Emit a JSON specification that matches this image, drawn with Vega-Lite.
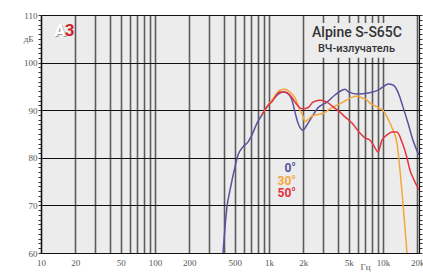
{
  "$schema": "https://vega.github.io/schema/vega-lite/v6.json",
  "width": 378,
  "height": 238,
  "autosize": "none",
  "padding": {"left": 41, "top": 15, "right": 4, "bottom": 24},
  "background": "#ffffff",
  "view": {"fill": "#ececec", "stroke": null},
  "resolve": {"axis": {"y": "independent"}},
  "layer": [
    {
      "data": {"values": [
        {"s": "0°", "f": 395, "db": 60},
        {"s": "0°", "f": 428, "db": 69.7},
        {"s": "0°", "f": 455, "db": 73.2},
        {"s": "0°", "f": 503, "db": 78.1},
        {"s": "0°", "f": 535, "db": 80.6},
        {"s": "0°", "f": 592, "db": 82.3},
        {"s": "0°", "f": 654, "db": 83.3},
        {"s": "0°", "f": 709, "db": 84.8},
        {"s": "0°", "f": 785, "db": 87.3},
        {"s": "0°", "f": 868, "db": 89},
        {"s": "0°", "f": 960, "db": 90.7},
        {"s": "0°", "f": 1062, "db": 92},
        {"s": "0°", "f": 1199, "db": 93.3},
        {"s": "0°", "f": 1327, "db": 93.8},
        {"s": "0°", "f": 1439, "db": 93.6},
        {"s": "0°", "f": 1592, "db": 92.1},
        {"s": "0°", "f": 1691, "db": 89.6},
        {"s": "0°", "f": 1797, "db": 87.3},
        {"s": "0°", "f": 1987, "db": 85.8},
        {"s": "0°", "f": 2154, "db": 86.9},
        {"s": "0°", "f": 2384, "db": 88.6},
        {"s": "0°", "f": 2690, "db": 90.5},
        {"s": "0°", "f": 3228, "db": 91.7},
        {"s": "0°", "f": 3791, "db": 93.2},
        {"s": "0°", "f": 4369, "db": 94.2},
        {"s": "0°", "f": 4642, "db": 94.4},
        {"s": "0°", "f": 5034, "db": 93.8},
        {"s": "0°", "f": 6036, "db": 93.4},
        {"s": "0°", "f": 7384, "db": 93.6},
        {"s": "0°", "f": 9037, "db": 94.2},
        {"s": "0°", "f": 10000, "db": 94.9},
        {"s": "0°", "f": 11066, "db": 95.5},
        {"s": "0°", "f": 12238, "db": 95.3},
        {"s": "0°", "f": 13537, "db": 93.8},
        {"s": "0°", "f": 14975, "db": 90.7},
        {"s": "0°", "f": 16571, "db": 87.3},
        {"s": "0°", "f": 18335, "db": 83.7},
        {"s": "0°", "f": 20600, "db": 80.6},
        {"s": "30°", "f": 868, "db": 89},
        {"s": "30°", "f": 960, "db": 90.7},
        {"s": "30°", "f": 1062, "db": 92.1},
        {"s": "30°", "f": 1249, "db": 94.2},
        {"s": "30°", "f": 1382, "db": 94.4},
        {"s": "30°", "f": 1528, "db": 93.8},
        {"s": "30°", "f": 1691, "db": 92.6},
        {"s": "30°", "f": 1871, "db": 90},
        {"s": "30°", "f": 1987, "db": 88.8},
        {"s": "30°", "f": 2070, "db": 87.6},
        {"s": "30°", "f": 2198, "db": 88},
        {"s": "30°", "f": 2432, "db": 88.9},
        {"s": "30°", "f": 2977, "db": 89.3},
        {"s": "30°", "f": 3428, "db": 90.3},
        {"s": "30°", "f": 4458, "db": 91.7},
        {"s": "30°", "f": 5456, "db": 92.8},
        {"s": "30°", "f": 6036, "db": 93},
        {"s": "30°", "f": 6544, "db": 92.6},
        {"s": "30°", "f": 7238, "db": 92.1},
        {"s": "30°", "f": 7691, "db": 91.5},
        {"s": "30°", "f": 8171, "db": 91.1},
        {"s": "30°", "f": 9413, "db": 90.3},
        {"s": "30°", "f": 10000, "db": 90},
        {"s": "30°", "f": 10841, "db": 88.6},
        {"s": "30°", "f": 11994, "db": 86.3},
        {"s": "30°", "f": 13269, "db": 83.1},
        {"s": "30°", "f": 14100, "db": 77.4},
        {"s": "30°", "f": 14975, "db": 70.5},
        {"s": "30°", "f": 16241, "db": 60},
        {"s": "50°", "f": 868, "db": 89},
        {"s": "50°", "f": 960, "db": 90.7},
        {"s": "50°", "f": 1062, "db": 91.8},
        {"s": "50°", "f": 1249, "db": 93.8},
        {"s": "50°", "f": 1382, "db": 93.8},
        {"s": "50°", "f": 1528, "db": 93.2},
        {"s": "50°", "f": 1691, "db": 91.7},
        {"s": "50°", "f": 1871, "db": 90.5},
        {"s": "50°", "f": 1987, "db": 90.3},
        {"s": "50°", "f": 2198, "db": 90.5},
        {"s": "50°", "f": 2432, "db": 91.7},
        {"s": "50°", "f": 2802, "db": 92.1},
        {"s": "50°", "f": 3228, "db": 91.7},
        {"s": "50°", "f": 3642, "db": 90.7},
        {"s": "50°", "f": 4195, "db": 89.6},
        {"s": "50°", "f": 4642, "db": 88.6},
        {"s": "50°", "f": 5348, "db": 87.3},
        {"s": "50°", "f": 6285, "db": 85.2},
        {"s": "50°", "f": 6952, "db": 84.2},
        {"s": "50°", "f": 7691, "db": 83.7},
        {"s": "50°", "f": 8508, "db": 82.1},
        {"s": "50°", "f": 9037, "db": 81.2},
        {"s": "50°", "f": 9799, "db": 83.7},
        {"s": "50°", "f": 10841, "db": 84.8},
        {"s": "50°", "f": 11994, "db": 85.4},
        {"s": "50°", "f": 13269, "db": 85.4},
        {"s": "50°", "f": 14678, "db": 83.3},
        {"s": "50°", "f": 16241, "db": 80},
        {"s": "50°", "f": 17250, "db": 77.4},
        {"s": "50°", "f": 18335, "db": 75.8},
        {"s": "50°", "f": 20600, "db": 73.3}
      ]},
      "mark": {"type": "line", "strokeWidth": 1.5, "interpolate": "monotone", "clip": true},
      "encoding": {
        "x": {"field": "f", "type": "quantitative",
          "scale": {"type": "log", "domain": [10, 20700], "nice": false},
          "axis": {
            "zindex": 0,
            "values": [10,20,30,40,50,60,70,80,90,100,200,300,400,500,600,700,800,900,1000,2000,3000,4000,5000,6000,7000,8000,9000,10000,20000],
            "labelExpr": "indexof([10,20,50,100,200,500],datum.value) >= 0 ? '' + datum.value : (indexof([1000,2000,5000,10000,20000],datum.value) >= 0 ? (datum.value/1000) + 'k' : '')",
            "grid": true, "gridColor": "#5c5c5c", "gridWidth": 1.6,
            "ticks": false, "domainColor": "#111111", "domainWidth": 1.2,
            "labelFont": "Liberation Sans Narrow", "labelFontSize": 9, "labelColor": "#555555",
            "labelPadding": 5, "labelFlush": false, "labelOverlap": false,
            "title": "Гц", "titleX": 324, "titleY": 13, "titleFont": "Liberation Sans Narrow",
            "titleFontSize": 9, "titleFontWeight": "normal", "titleColor": "#555555",
            "titleAlign": "center", "titleBaseline": "middle"
          }},
        "y": {"field": "db", "type": "quantitative",
          "scale": {"domain": [60, 110], "nice": false, "zero": false},
          "axis": {
            "zindex": 0,
            "orient": "left",
            "values": [60,61,62,63,64,65,66,67,68,69,70,71,72,73,74,75,76,77,78,79,80,81,82,83,84,85,86,87,88,89,90,91,92,93,94,95,96,97,98,99,100,101,102,103,104,105,106,107,108,109,110],
            "labelExpr": "datum.value % 10 === 0 ? datum.label : ''",
            "grid": true, "gridColor": "#111111", "gridWidth": 1.2,
            "gridOpacity": {"condition": {"test": "datum.value % 10 === 0", "value": 1}, "value": 0},
            "tickSize": 3, "tickColor": "#333333", "tickWidth": 1,
            "domainColor": "#111111", "domainWidth": 1.2,
            "labelFont": "Liberation Sans Narrow", "labelFontSize": 9, "labelColor": "#555555",
            "labelPadding": 1, "labelFlush": false, "labelOverlap": false,
            "title": "дБ", "titleAngle": 0, "titleX": -13, "titleY": 23,
            "titleFont": "Liberation Sans Narrow", "titleFontSize": 9, "titleFontWeight": "normal",
            "titleColor": "#555555", "titleAlign": "center", "titleBaseline": "middle"
          }},
        "color": {"field": "s", "type": "nominal",
          "scale": {"domain": ["0°", "30°", "50°"], "range": ["#58539e", "#f4a73a", "#e6323d"]},
          "legend": null}
      }
    },
    {
      "data": {"values": [{"f": 2290, "f2": 17300, "db": 101, "db2": 108.3}]},
      "mark": {"type": "rect", "fill": "#ececec", "opacity": 1},
      "encoding": {
        "x": {"field": "f", "type": "quantitative", "scale": {"type": "log", "domain": [10, 20700], "nice": false}},
        "x2": {"field": "f2"},
        "y": {"field": "db", "type": "quantitative", "scale": {"domain": [60, 110], "nice": false, "zero": false},
          "axis": {"zindex": 0, "orient": "right", "values": [60,61,62,63,64,65,66,67,68,69,70,71,72,73,74,75,76,77,78,79,80,81,82,83,84,85,86,87,88,89,90,91,92,93,94,95,96,97,98,99,100,101,102,103,104,105,106,107,108,109,110],
            "labels": false, "grid": false, "tickSize": 3, "tickColor": "#333333", "domainColor": "#111111", "domainWidth": 1.2, "title": null}},
        "y2": {"field": "db2"}
      }
    },
    {
      "data": {"values": [
        {"t": "0°", "f": 1725, "db": 77.9},
        {"t": "30°", "f": 1725, "db": 75.1},
        {"t": "50°", "f": 1725, "db": 72.6}
      ]},
      "mark": {"type": "text", "align": "right", "baseline": "middle", "font": "Roboto", "fontSize": 12, "fontWeight": "bold"},
      "encoding": {
        "x": {"field": "f", "type": "quantitative", "scale": {"type": "log", "domain": [10, 20700], "nice": false}},
        "y": {"field": "db", "type": "quantitative", "scale": {"domain": [60, 110], "nice": false, "zero": false}, "axis": null},
        "text": {"field": "t"},
        "color": {"field": "t", "type": "nominal",
          "scale": {"domain": ["0°", "30°", "50°"], "range": ["#58539e", "#f4a73a", "#e6323d"]},
          "legend": null}
      }
    },
    {
      "data": {"values": [{"t": "Alpine S-S65C", "f": 5916, "db": 106.2}]},
      "mark": {"type": "text", "align": "center", "baseline": "middle", "font": "Roboto", "fontSize": 14, "fontWeight": 500, "color": "#333333"},
      "encoding": {
        "x": {"field": "f", "type": "quantitative", "scale": {"type": "log", "domain": [10, 20700], "nice": false}},
        "y": {"field": "db", "type": "quantitative", "scale": {"domain": [60, 110], "nice": false, "zero": false}, "axis": null},
        "text": {"field": "t"}
      }
    },
    {
      "data": {"values": [{"t": "ВЧ-излучатель", "f": 5850, "db": 102.9}]},
      "mark": {"type": "text", "align": "center", "baseline": "middle", "font": "Roboto", "fontSize": 11, "fontWeight": 500, "color": "#333333"},
      "encoding": {
        "x": {"field": "f", "type": "quantitative", "scale": {"type": "log", "domain": [10, 20700], "nice": false}},
        "y": {"field": "db", "type": "quantitative", "scale": {"domain": [60, 110], "nice": false, "zero": false}, "axis": null},
        "text": {"field": "t"}
      }
    },
    {
      "data": {"values": [{"t": "A", "f": 14.68, "db": 106.6}]},
      "mark": {"type": "text", "align": "center", "baseline": "middle", "font": "Roboto", "fontSize": 17, "fontWeight": "bold", "color": "#9a9a9a", "dx": 1, "dy": 1},
      "encoding": {
        "x": {"field": "f", "type": "quantitative", "scale": {"type": "log", "domain": [10, 20700], "nice": false}},
        "y": {"field": "db", "type": "quantitative", "scale": {"domain": [60, 110], "nice": false, "zero": false}, "axis": null},
        "text": {"field": "t"}
      }
    },
    {
      "data": {"values": [{"t": "A", "f": 14.68, "db": 106.6}]},
      "mark": {"type": "text", "align": "center", "baseline": "middle", "font": "Roboto", "fontSize": 17, "fontWeight": "bold", "color": "#ffffff"},
      "encoding": {
        "x": {"field": "f", "type": "quantitative", "scale": {"type": "log", "domain": [10, 20700], "nice": false}},
        "y": {"field": "db", "type": "quantitative", "scale": {"domain": [60, 110], "nice": false, "zero": false}, "axis": null},
        "text": {"field": "t"}
      }
    },
    {
      "data": {"values": [{"t": "3", "f": 17.8, "db": 106.6}]},
      "mark": {"type": "text", "align": "center", "baseline": "middle", "font": "Roboto", "fontSize": 17, "fontWeight": "bold", "color": "#d11f2a"},
      "encoding": {
        "x": {"field": "f", "type": "quantitative", "scale": {"type": "log", "domain": [10, 20700], "nice": false}},
        "y": {"field": "db", "type": "quantitative", "scale": {"domain": [60, 110], "nice": false, "zero": false}, "axis": null},
        "text": {"field": "t"}
      }
    }
  ]
}
